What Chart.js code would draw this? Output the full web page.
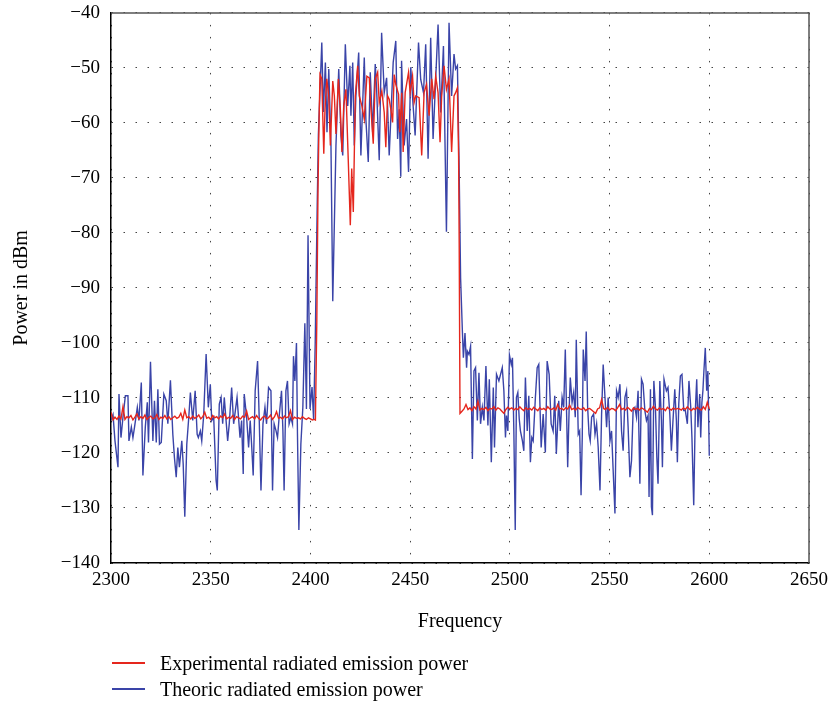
<!DOCTYPE html>
<html>
<head>
<meta charset="utf-8">
<script src="https://cdn.jsdelivr.net/npm/chart.js@4.4.1/dist/chart.umd.min.js"></script>
<style>
  body { margin: 0; background: #fff; }
  #wrap { position: relative; width: 834px; height: 705px; }
  #legend { position: absolute; left: 112px; top: 650px; font: 20px "Liberation Serif", serif; color: #000; }
  #legend .item { display: flex; align-items: center; height: 26px; }
  #legend .swatch { width: 33px; height: 1.5px; margin-right: 15px; }
</style>
</head>
<body>
<div id="wrap">
  <canvas id="myChart" width="834" height="705"></canvas>
  <div id="legend"></div>
</div>
<script>
// axis ticks
const xTicks = [2300, 2350, 2400, 2450, 2500, 2550, 2600, 2650];
const yTicks = [-140, -130, -120, -110, -100, -90, -80, -70, -60, -50, -40];

const seriesNames = ['Experimental radiated emission power', 'Theoric radiated emission power'];

// experimental (red): flat part below the band, one value per MHz from 2300
const redLeftStart = 2300;
const redLeft = [
  -112.6, -114.0, -113.5, -113.9, -113.3, -113.8, -111.6, -113.9, -113.4, -113.6,
  -113.2, -114.0, -113.5, -112.9, -113.8, -113.4, -113.7, -113.1, -113.9, -113.5,
  -113.3, -113.8, -113.6, -113.0, -113.9, -113.5, -113.7, -113.2, -113.8, -113.4,
  -113.9, -113.6, -113.3, -113.7, -113.5, -112.8, -113.9, -112.2, -113.6, -113.4,
  -113.8, -113.3, -113.7, -113.5, -113.1, -113.8, -113.4, -112.6, -113.7, -113.5,
  -113.9, -113.2, -113.6, -113.4, -113.8, -113.3, -113.6, -112.9, -113.8, -113.5,
  -113.7, -113.2, -113.9, -113.4, -113.6, -113.8, -113.3, -113.5, -112.4, -113.9,
  -113.6, -113.4, -113.8, -113.2, -113.7, -114.0, -113.5, -113.3, -113.8, -113.6,
  -113.1, -113.9, -113.4, -112.5, -113.7, -113.5, -113.8, -113.3, -113.6, -113.4,
  -112.3, -113.9, -113.5, -113.7, -113.6, -113.8, -113.4, -113.7, -113.9, -113.6,
  -113.8, -114.0, -113.9
];

// experimental (red): inside the band [MHz, dBm]
const redBand = [
  [2402.5, -114], [2403.2, -96], [2403.8, -72], [2404.3, -60], [2404.8, -51.2],
  [2405.7, -52], [2406.7, -65.6], [2407.3, -57.5], [2408.2, -52], [2409.2, -55.1],
  [2410, -64.1], [2411.2, -52.4], [2412, -55.1], [2412.8, -62], [2414, -52],
  [2415, -57.5], [2415.8, -65.3], [2416.7, -56.9], [2417.8, -53.9], [2419, -67.1],
  [2420, -78.6], [2420.7, -68.3], [2421.5, -76.2], [2422.5, -55.1], [2423.7, -49.6],
  [2424.5, -55.1], [2425.8, -56.9], [2427, -59.3], [2428.3, -51.5], [2429.5, -51.8],
  [2430.3, -57.2], [2431.5, -63.8], [2432.5, -52], [2433.7, -50.8], [2434.5, -56.3],
  [2435.8, -54.2], [2437, -58.1], [2437.8, -64.4], [2438.7, -55.1], [2439.5, -55.7],
  [2440.3, -57.5], [2441.2, -59.9], [2442, -51.2], [2442.8, -53], [2444.2, -54.8],
  [2444.8, -61.7], [2445.8, -54.5], [2446.5, -65.3], [2447.5, -54.5], [2448.2, -53],
  [2449.2, -50.8], [2450, -54.5], [2451.2, -51.5], [2452, -56.3], [2452.8, -55.1],
  [2454.5, -55.4], [2455.8, -65.9], [2457, -54.5], [2458.2, -53], [2459.5, -58.7],
  [2460.8, -52], [2462, -55.7], [2462.8, -51.5], [2464, -54.5], [2465, -63.5],
  [2465.8, -55.1], [2467, -49.6], [2468.2, -53.9], [2469.5, -52], [2470.8, -65.3],
  [2472, -55.1], [2472.8, -54.5], [2473.7, -53.6], [2474.3, -66], [2474.6, -82],
  [2475, -112.8]
];

// experimental (red): flat part above the band, one value per MHz from 2476
const redRightStart = 2476;
const redRight = [
  -112.4, -112.0, -111.2, -112.1, -111.8, -112.3, -111.6, -112.0, -110.6, -112.2,
  -111.9, -112.1, -111.7, -112.3, -111.9, -112.0, -111.6, -112.2, -111.8, -112.0,
  -112.4, -112.8, -112.1, -111.7, -112.0, -111.8, -112.2, -111.9, -112.1, -111.6,
  -112.0, -112.3, -111.8, -112.1, -111.9, -112.2, -111.7, -112.0, -112.3, -111.8,
  -112.1, -111.9, -112.2, -111.6, -112.0, -112.1, -111.8, -112.2, -111.2, -112.0,
  -111.9, -112.2, -111.8, -112.0, -111.3, -112.1, -111.9, -112.2, -111.7, -112.0,
  -112.1, -111.8, -112.3, -112.0, -111.9, -112.2, -112.5, -112.8, -112.0, -111.8,
  -110.3, -111.9, -112.1, -111.7, -112.2, -111.9, -112.0, -112.3, -111.8, -111.2,
  -112.1, -111.9, -112.2, -111.7, -112.0, -112.4, -111.8, -112.1, -111.9, -112.2,
  -111.8, -112.0, -112.3, -112.6, -111.9, -112.1, -111.5, -112.0, -112.2, -111.8,
  -112.1, -111.9, -112.3, -111.7, -112.0, -112.2, -111.8, -112.1, -111.9, -112.0,
  -112.2, -111.8, -112.1, -111.6, -112.0, -112.3, -111.9, -112.1, -111.7, -112.0,
  -112.2, -111.6, -112.1, -110.8, -112.0
];

// theoric (blue) [MHz, dBm]
const bluePoints = [
  [2300, -114], [2301, -113], [2302, -117.8], [2303.5, -122.6], [2304, -109.3],
  [2305, -117.2], [2306, -113.5], [2307.2, -109.6], [2308.5, -109.6], [2309, -117.8],
  [2310.2, -115.3], [2311, -117.2], [2311.8, -115.3], [2313.2, -111.7], [2314, -114.1],
  [2315.2, -107.2], [2316, -124.1], [2317.2, -115.3], [2318.2, -110.8], [2318.8, -118.1],
  [2319.8, -103.4], [2321, -117.8], [2321.8, -110.5], [2322.7, -118.1], [2323.5, -108.4],
  [2324.3, -118.4], [2325.2, -118.1], [2326.5, -109.3], [2327.7, -110.5], [2328.5, -114.7],
  [2329.8, -106.8], [2331, -116.6], [2331.8, -120.8], [2332.7, -124.4], [2333.5, -119],
  [2334.3, -122.6], [2335.5, -117.8], [2336.2, -122], [2337, -131.6], [2338, -118.4],
  [2339, -113.5], [2339.8, -109], [2341, -114.1], [2342.2, -108.7], [2343.2, -116.6],
  [2343.8, -117.2], [2344.8, -116], [2345.5, -117.8], [2346.5, -113], [2347.7, -102],
  [2348.8, -111.7], [2349.8, -107.5], [2350.5, -114.1], [2351.5, -113.5], [2352.7, -125],
  [2353.3, -126.8], [2354.3, -111.1], [2355.2, -109.9], [2356, -114.7], [2356.8, -109.9],
  [2357.7, -114.1], [2358.5, -117.8], [2359.3, -114.7], [2360.5, -108.1], [2361.5, -114.7],
  [2363.2, -109.9], [2364.7, -117.2], [2365.5, -114.1], [2366.3, -123.8], [2366.8, -109.3],
  [2368, -113.5], [2369, -119], [2369.8, -114.1], [2370.5, -118.4], [2371.3, -124.1],
  [2372.3, -108.7], [2373.5, -103.3], [2374.3, -113.5], [2375.2, -126.8], [2376.2, -114.7],
  [2377.2, -111.7], [2378, -114.7], [2379, -108.1], [2380.2, -108.7], [2381, -126.8],
  [2381.8, -114.7], [2382.7, -115.9], [2383.5, -117.2], [2384.3, -113.5], [2385.5, -108.7],
  [2386.2, -115.9], [2386.8, -126.8], [2387.7, -108.7], [2388.5, -106.9], [2389.3, -114.7],
  [2390.2, -113.5], [2391, -114.7], [2391.5, -102.4], [2392.2, -106.9], [2393, -100],
  [2393.5, -116.5], [2394.2, -134], [2395.2, -118.4], [2396.2, -111.7], [2397.2, -96.4],
  [2398, -112], [2398.8, -80.4], [2399.8, -112], [2400.8, -108], [2401.6, -114],
  [2402.4, -100], [2403.4, -75], [2404, -62], [2405.7, -45.4], [2406.5, -58],
  [2407.5, -49], [2408.3, -61.7], [2409.2, -50.2], [2410.3, -64.1], [2411.2, -92.4],
  [2412.8, -64.1], [2414.2, -50.2], [2415.3, -62.3], [2416.2, -65.9], [2417.5, -45.7],
  [2418.7, -56.9], [2419.8, -49.6], [2420.3, -58.7], [2421.2, -49], [2422, -64.1],
  [2422.8, -55.1], [2424.2, -47.2], [2425.3, -65.9], [2427, -48.1], [2427.8, -59.3],
  [2429, -67.1], [2430, -50.8], [2431.2, -61.7], [2432.5, -49.3], [2433.2, -53.9],
  [2434.5, -66.8], [2435.7, -43.6], [2437, -54.5], [2438.2, -51.8], [2439.5, -65.9],
  [2441.5, -49], [2442.8, -45.1], [2443.7, -62.9], [2444.5, -57.5], [2445.3, -69.8],
  [2445.7, -48.7], [2447, -64.1], [2448.2, -59.3], [2449.2, -68.9], [2450.3, -49.9],
  [2451.5, -56.9], [2452.5, -62.3], [2454.2, -45.4], [2455.3, -52.1], [2456.7, -54.5],
  [2457.8, -45.7], [2459, -66.5], [2460.3, -44.5], [2461.5, -62.9], [2462.8, -52.1],
  [2464, -42.1], [2465.3, -58.1], [2466.7, -46], [2468.2, -79.8], [2469.5, -41.8],
  [2470.8, -55.1], [2472, -47.5], [2472.8, -50.2], [2473.7, -49.6], [2474.5, -66.5],
  [2475.3, -88.2], [2476.2, -97.9], [2476.7, -102.7], [2477.5, -98.2], [2478.3, -104.5],
  [2478.7, -101.5], [2479.5, -102.1], [2480.3, -100.6], [2481.2, -121.1], [2482, -105.1],
  [2482.8, -104.5], [2483.7, -114.1], [2484.5, -105.4], [2485.3, -114.7], [2486.2, -111.7],
  [2487, -114.1], [2488, -104.2], [2489, -115], [2489.7, -106.6], [2490.7, -121.7],
  [2491.7, -108.1], [2492.3, -119], [2493.3, -105.7], [2494.5, -106.9], [2496.2, -104.5],
  [2497, -108.7], [2497.8, -117.2], [2498.3, -113.2], [2499, -116], [2499.8, -102.2],
  [2500.7, -103.9], [2501.3, -102.7], [2502, -116], [2502.7, -134], [2503.3, -109.9],
  [2504, -109], [2504.7, -113.8], [2505.3, -116], [2506.3, -117.8], [2507, -119.6],
  [2507.8, -106.3], [2508.7, -116], [2509.5, -109.6], [2510.3, -121.7], [2511, -117.2],
  [2511.7, -117.8], [2512.8, -109.9], [2513.7, -104.5], [2514.5, -103.9], [2515.7, -119],
  [2516.7, -112.9], [2517.8, -119.9], [2518.7, -103.3], [2519.7, -105.7], [2520.7, -114.7],
  [2521.7, -116], [2522.5, -109.6], [2523.3, -120.2], [2524.5, -110.5], [2525.3, -116],
  [2526.2, -109.9], [2527, -111.7], [2527.8, -101.2], [2529, -122.6], [2529.7, -112.3],
  [2530.3, -106.3], [2531.2, -110.8], [2532, -109], [2532.8, -113.5], [2533.3, -99.4],
  [2534.3, -116.6], [2535, -116], [2535.7, -127.7], [2536.3, -117.2], [2536.8, -101.2],
  [2537.7, -106.9], [2538.3, -97.9], [2539, -111.7], [2539.7, -116.6], [2540.3, -117.8],
  [2541, -113.5], [2542, -112.9], [2542.7, -116.6], [2543.5, -114.7], [2544.3, -119],
  [2545.2, -126.8], [2546, -112.9], [2546.8, -103.9], [2547.7, -109.9], [2548.5, -115.3],
  [2549.3, -109.9], [2550.2, -117.8], [2551, -116], [2551.8, -123.2], [2552.7, -131],
  [2553.5, -108.7], [2554.3, -109.9], [2555.2, -107.5], [2556, -116], [2556.8, -119.6],
  [2557.7, -109.9], [2558.5, -108.7], [2559.3, -115.3], [2560.2, -124.4], [2561, -121.4],
  [2561.8, -112.3], [2562.7, -111.7], [2563.5, -113.5], [2564.3, -108.7], [2565.2, -125.6],
  [2566, -106.6], [2566.8, -107.5], [2567.7, -112.3], [2568.5, -114.1], [2569.3, -113.2],
  [2569.8, -128], [2570.5, -108.4], [2571, -129.8], [2571.5, -131.3], [2572.2, -106.9],
  [2573, -111.7], [2573.7, -120.8], [2574.3, -125.6], [2575.2, -106.9], [2576, -114.1],
  [2576.5, -122.6], [2577.3, -106.6], [2578.5, -108.7], [2579.3, -108.1], [2580.2, -112.9],
  [2581, -119.6], [2581.8, -114.1], [2582.7, -108.4], [2583.5, -114.1], [2584, -121.7],
  [2584.7, -111.1], [2585.5, -106], [2586.3, -105.7], [2587.2, -112.3], [2588, -112.3],
  [2589, -114.7], [2589.8, -106.9], [2590.7, -111.7], [2591.3, -117.2], [2592.2, -129.5],
  [2593, -112.3], [2593.7, -106.6], [2594.3, -115.3], [2595.2, -109.3], [2595.7, -117.2],
  [2596.3, -110.8], [2596.8, -108.7], [2597.3, -105.1], [2598, -100.9], [2598.7, -108.7],
  [2599.3, -105.1], [2600, -120.5]
];

const redColor = 'rgb(229, 38, 29)';
const blueColor = 'rgb(58, 68, 168)';

// 빨간 곡선 점 만들기
const redData = [];
redLeft.forEach((v, i) => redData.push({ x: redLeftStart + i, y: v }));
redBand.forEach(p => redData.push({ x: p[0], y: p[1] }));
redRight.forEach((v, i) => redData.push({ x: redRightStart + i, y: v }));
const blueData = bluePoints.map(p => ({ x: p[0], y: p[1] }));

const tickFont = { family: '"Liberation Serif", serif', size: 19 };
// y tick labels: small line height so the top label does not push the plot down
const yTickFont = { family: '"Liberation Serif", serif', size: 19, lineHeight: 0.2 };
const titleFont = { family: '"Liberation Serif", serif', size: 20 };
const minus = v => String(v).replace('-', '\u2212');

// 위/오른쪽 테두리
const frameBorder = {
    id: 'frameBorder',
    afterDatasetsDraw(chart) {
        const { ctx, chartArea: a } = chart;
        ctx.save();
        ctx.strokeStyle = '#555';
        ctx.lineWidth = 1.5;
        ctx.beginPath();
        ctx.moveTo(a.left, a.top);
        ctx.lineTo(a.right, a.top);
        ctx.lineTo(a.right, a.bottom);
        ctx.stroke();
        ctx.restore();
    }
};

const ctx = document.getElementById('myChart');
const myChart = new Chart(ctx, {
    type: 'line',
    data: {
        datasets: [{
            label: seriesNames[0],
            data: redData,
            borderColor: redColor,
            backgroundColor: redColor,
            borderWidth: 1.4,
            pointRadius: 0
        },
        {
            label: seriesNames[1],
            data: blueData,
            borderColor: blueColor,
            backgroundColor: blueColor,
            borderWidth: 1.4,
            pointRadius: 0
        }]
    },
    options: {
        responsive: false,
        animation: false,
        layout: { autoPadding: false, padding: { left: 0, right: 24, top: 7, bottom: 65 } },
        scales: {
            x: {
                type: 'linear',
                min: 2300,
                max: 2650,
                afterBuildTicks: s => { s.ticks = xTicks.map(v => ({ value: v })); },
                afterFit: s => { s.height = 77; },
                ticks: { color: '#000', font: tickFont, padding: 6, maxRotation: 0, callback: v => String(v) },
                grid: { color: '#444', drawTicks: false },
                border: { color: '#000', width: 1.5, dash: [1.5, 10.5] },
                title: { display: true, text: 'Frequency', color: '#000', font: titleFont, padding: { top: 0, bottom: 6 } }
            },
            y: {
                min: -140,
                max: -40,
                afterBuildTicks: s => { s.ticks = yTicks.map(v => ({ value: v })); },
                afterFit: s => { s.width = 111; },
                ticks: { color: '#000', font: yTickFont, padding: 11, callback: v => minus(v) },
                grid: { color: '#444', drawTicks: false },
                border: { color: '#000', width: 1.5, dash: [1.5, 10.5] },
                title: { display: true, text: 'Power in dBm', color: '#000', font: titleFont, padding: { top: 10, bottom: 0 } }
            }
        },
        plugins: {
            legend: { display: false },
            tooltip: { enabled: false }
        }
    },
    plugins: [frameBorder]
});

// 범례 (HTML)
const legendBox = document.getElementById('legend');
myChart.data.datasets.forEach(ds => {
    const item = document.createElement('div');
    item.className = 'item';
    const sw = document.createElement('span');
    sw.className = 'swatch';
    sw.style.background = ds.borderColor;
    const txt = document.createElement('span');
    txt.textContent = ds.label;
    item.appendChild(sw);
    item.appendChild(txt);
    legendBox.appendChild(item);
});
</script>
</body>
</html>
